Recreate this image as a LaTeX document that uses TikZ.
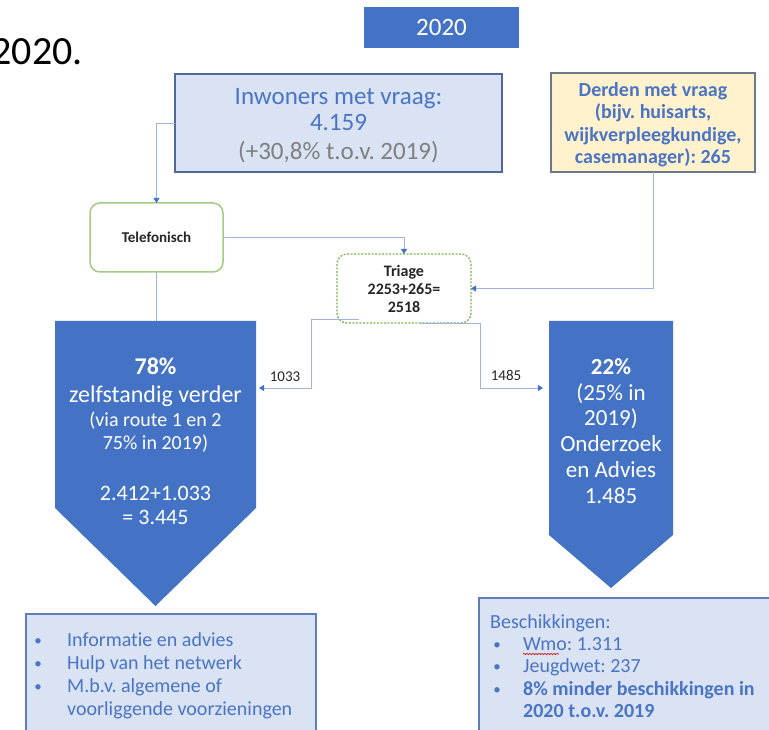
\documentclass[tikz,border=0pt]{standalone}
\usepackage{fontspec}
\setmainfont{Carlito}[Ligatures=NoCommon]
\frenchspacing
\usetikzlibrary{arrows.meta,decorations.pathmorphing,calc}
\definecolor{mainblue}{HTML}{4472C4}
\definecolor{txtblue}{HTML}{4A74C4}
\definecolor{lightbluefill}{HTML}{DAE3F3}
\definecolor{inwborder}{HTML}{51699A}
\definecolor{lowborder}{HTML}{5F7DB6}
\definecolor{derfill}{HTML}{FFF2CC}
\definecolor{derborder}{HTML}{6B7888}
\definecolor{lineblue}{HTML}{9DB4E0}
\definecolor{tipblue}{HTML}{4472C4}
\definecolor{telgreen}{HTML}{A3CC82}
\definecolor{trigreen}{HTML}{7DB552}
\definecolor{graytxt}{HTML}{7F7F7F}
\definecolor{darktxt}{HTML}{262626}
\newcommand{\fs}[2]{\fontsize{#1}{#2}\selectfont}
\begin{document}
\begin{tikzpicture}[x=1pt,y=-1pt,
  rect/.style={inner sep=0pt,outer sep=0pt},
  conn/.style={draw=lineblue,line width=0.9pt},
  arr/.style={conn,-{Triangle[length=5pt,width=6pt,color=tipblue]}},
  wtxt/.style={inner sep=0pt,anchor=base,text=white},
  btxt/.style={inner sep=0pt,anchor=base west,text=txtblue,font=\fs{20}{23}},
  ptxt/.style={inner sep=0pt,anchor=base,text=txtblue},
  bul/.style={inner sep=0pt,anchor=base,text=txtblue,font=\fs{15}{18}},
  lab/.style={inner sep=0pt,text=darktxt,font=\fs{15}{18}}]
\useasboundingbox (0,0) rectangle (769,730);
\clip (0,0) rectangle (769,730);
\fill[white] (0,0) rectangle (769,730);

% year title
\node[inner sep=0pt,anchor=base east,font=\fs{40}{44}] (year) at (83,65) {2020.};
\node[rect,fill=mainblue,minimum width=155pt,minimum height=41pt,text=white,font=\fs{25}{28}] (top) at (441.5,27.5) {2020};

% source boxes
\node[rect,fill=lightbluefill,draw=inwborder,line width=1.2pt,minimum width=327pt,minimum height=98pt] (inw) at (338.5,123) {};
\node[ptxt,font=\fs{25}{28}] (inw1) at (338.5,105) {Inwoners met vraag:};
\node[ptxt,font=\fs{25}{28}] (inw2) at (338.5,131) {4.159};
\node[ptxt,font=\fs{25}{28},text=graytxt] (inw3) at (338.5,160) {(+30,8\% t.o.v. 2019)};

\node[rect,fill=derfill,draw=derborder,line width=1.2pt,minimum width=204pt,minimum height=99pt] (der) at (653,122.5) {};
\node[ptxt,font=\bfseries\fs{20}{23}] (der1) at (653,97) {Derden met vraag};
\node[ptxt,font=\bfseries\fs{20}{23}] (der2) at (653,119) {(bijv. huisarts,};
\node[ptxt,font=\bfseries\fs{20}{23}] (der3) at (653,142) {wijkverpleegkundige,};
\node[ptxt,font=\bfseries\fs{20}{23}] (der4) at (653,164) {casemanager): 265};

% Telefonisch and Triage
\node[rect,draw=telgreen,line width=1.5pt,rounded corners=10pt,minimum width=133pt,minimum height=69pt,text=darktxt,font=\bfseries\fs{15}{18}] (tel) at (156.5,237.5) {Telefonisch};
\node[rect,draw=trigreen,line width=1.3pt,dash pattern=on 2pt off 1.5pt,rounded corners=10pt,minimum width=134pt,minimum height=69pt,text=darktxt,font=\bfseries\fs{16}{18},align=center] (tri) at (404,288.5) {Triage\\2253+265=\\2518};

% pentagons
\node[rect,minimum width=201pt,minimum height=187pt] (lp) at (155.5,414.5) {};
\coordinate (lptip) at (155.5,606);
\fill[mainblue] (lp.north west) -- (lp.north east) -- (lp.south east) -- (lptip) -- (lp.south west) -- cycle;
\node[rect,minimum width=124pt,minimum height=214pt] (rp) at (611,428) {};
\coordinate (rptip) at (611,588);
\fill[mainblue] (rp.north west) -- (rp.north east) -- (rp.south east) -- (rptip) -- (rp.south west) -- cycle;

\node[wtxt,font=\bfseries\fs{24}{28}] (lt1) at (155.5,374) {78\%};
\node[wtxt,font=\fs{24}{28}] (lt2) at (155.5,402) {zelfstandig verder};
\node[wtxt,font=\fs{20}{23}] (lt3) at (155.5,426) {(via route 1 en 2};
\node[wtxt,font=\fs{20}{23}] (lt4) at (155.5,449) {75\% in 2019)};
\node[wtxt,font=\fs{22}{26}] (lt5) at (155.5,500) {2.412+1.033};
\node[wtxt,font=\fs{22}{26}] (lt6) at (155.5,524) {= 3.445};

\node[wtxt,font=\bfseries\fs{23}{26}] (rt1) at (611,374) {22\%};
\node[wtxt,font=\fs{23}{26}] (rt2) at (611,400) {(25\% in};
\node[wtxt,font=\fs{23}{26}] (rt3) at (611,425) {2019)};
\node[wtxt,font=\fs{23}{26}] (rt4) at (611,451) {Onderzoek};
\node[wtxt,font=\fs{23}{26}] (rt5) at (611,477) {en Advies};
\node[wtxt,font=\fs{23}{26}] (rt6) at (611,503) {1.485};

% bottom boxes
\node[rect,anchor=north west,fill=lightbluefill,draw=lowborder,line width=1.2pt,minimum width=290pt,minimum height=140pt] (lb) at (26,614) {};
\node[bul] (lb1b) at (38,645) {\textbullet};
\node[btxt] (lb1) at (67,646) {Informatie en advies};
\node[bul] (lb2b) at (38,668) {\textbullet};
\node[btxt] (lb2) at (67,669) {Hulp van het netwerk};
\node[bul] (lb3b) at (38,691) {\textbullet};
\node[btxt] (lb3) at (67,692) {M.b.v. algemene of};
\node[btxt] (lb4) at (67,715) {voorliggende voorzieningen};

\node[rect,anchor=north west,fill=lightbluefill,draw=lowborder,line width=1.2pt,minimum width=310pt,minimum height=150pt] (rb) at (479,598) {};
\node[btxt] (rb0) at (490,628) {Beschikkingen:};
\node[bul] (rb1b) at (497,649) {\textbullet};
\node[btxt] (rb1) at (523,650) {Wmo: 1.311};
\draw[red!80!black,line width=0.6pt,decorate,decoration={snake,amplitude=0.7pt,segment length=3pt}] ($(rb1.base west)+(0,4)$) -- ($(rb1.base west)+(36,4)$);
\node[bul] (rb2b) at (497,671) {\textbullet};
\node[btxt] (rb2) at (523,672) {Jeugdwet: 237};
\node[bul] (rb3b) at (497,694) {\textbullet};
\node[btxt,font=\bfseries\fs{20}{23}] (rb3) at (523,695) {8\% minder beschikkingen in};
\node[btxt,font=\bfseries\fs{20}{23}] (rb4) at (523,717) {2020 t.o.v. 2019};

% connectors
\draw[arr] (inw.west) -| (tel.north);
\draw[arr] (tel.east) -| (tri.north);
\draw[arr] (der.south) |- (tri.east);
\draw[conn] (tel.south) -- (lp.north -| tel.south);
\coordinate (la) at (259,388);
\coordinate (ra) at (543,388);
\draw[arr] ($(tri.south west)+(22,-4)$) -- (311,319) |- (la);
\draw[arr] ($(tri.south east)+(-50,0)$) -- (480,323) |- (ra);
\node[lab] (n1033) at (285,377) {1033};
\node[lab] (n1485) at (506,375) {1485};
\end{tikzpicture}
\end{document}
